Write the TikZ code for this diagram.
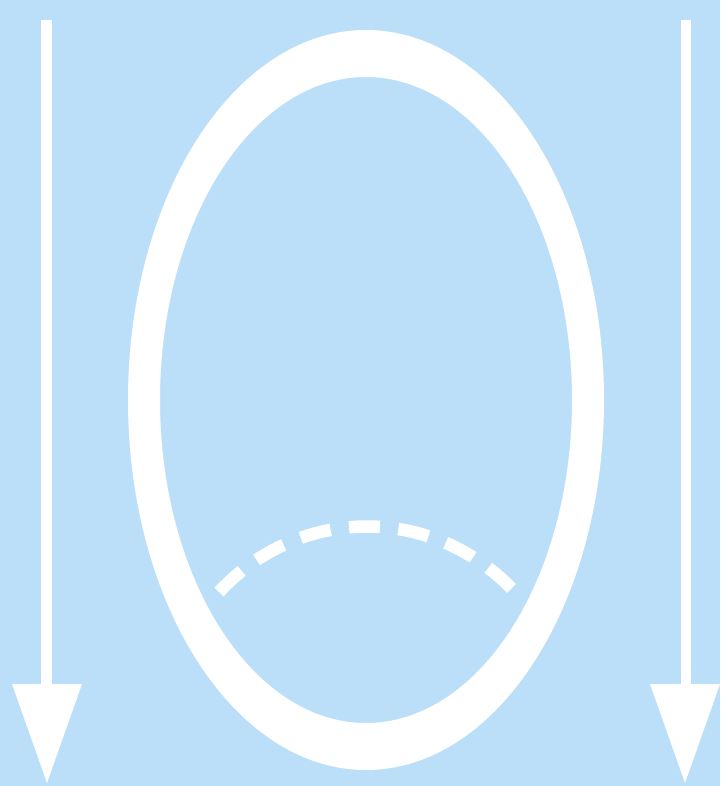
\documentclass[tikz,border=0pt]{standalone}
\definecolor{bgblue}{RGB}{187,223,248}
\begin{document}
\begin{tikzpicture}[x=1pt,y=-1pt,
  shaft/.style={draw=white,line width=11pt},
  head/.style={fill=white},
  ringfill/.style={fill=white,even odd rule},
  dasharc/.style={draw=white,line width=12.5pt,dash pattern=on 31pt off 18.5pt}]
\fill[bgblue] (0,0) rectangle (720,786);
\useasboundingbox (0,0) rectangle (720,786);
% left arrow
\coordinate (lt) at (46,20);
\coordinate (lb) at (46,690);
\draw[shaft] (lt) -- (lb);
\fill[head] (12,684) -- (82,684) -- (47,783) -- cycle;
% right arrow
\coordinate (rt) at (686,20);
\coordinate (rb) at (686,690);
\draw[shaft,line width=10pt] (rt) -- (rb);
\fill[head] (650,684) -- (720,684) -- (685,783) -- cycle;
% ring
\fill[ringfill] (366,400) ellipse [x radius=238, y radius=370]
                (366,400) ellipse [x radius=206, y radius=323];
% dashed arc
\coordinate (da) at (219,592);
\coordinate (db) at (513,590);
\draw[dasharc] (da) .. controls (300,505) and (432,505) .. (db);
\end{tikzpicture}
\end{document}
